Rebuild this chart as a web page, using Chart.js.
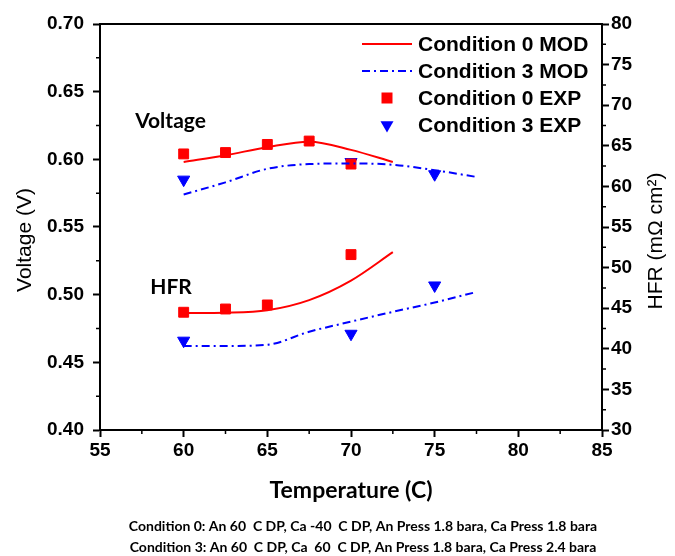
<!DOCTYPE html>
<html>
<head>
<meta charset="utf-8">
<script src="https://cdn.jsdelivr.net/npm/chart.js@4.4.0/dist/chart.umd.min.js"></script>
<style>
  html, body { margin: 0; padding: 0; background: #fff; }
  #wrap { width: 675px; height: 556px; }
</style>
</head>
<body>
<div id="wrap"><canvas id="chart" width="675" height="556"></canvas></div>
<script>
// model curves (temperature in C)
const tempMod0 = [60, 62.5, 65, 67.5, 70, 72.5];
const tempMod3 = [60, 62.5, 65, 67.5, 70, 72.5, 75, 77.5];
const voltMod0 = [0.598, 0.603, 0.609, 0.613, 0.607, 0.598];
const voltMod3 = [0.574, 0.583, 0.593, 0.5965, 0.597, 0.596, 0.592, 0.587];
const hfrMod0 = [44.4, 44.45, 44.75, 46.0, 48.4, 51.9];
const hfrMod3 = [40.35, 40.35, 40.5, 42.1, 43.35, 44.55, 45.7, 47.0];

// experimental points
const tempExp0V = [60, 62.5, 65, 67.5, 70];
const voltExp0 = [0.604, 0.605, 0.611, 0.6135, 0.5965];
const tempExp3V = [60, 70, 75];
const voltExp3 = [0.585, 0.598, 0.589];
const tempExp0H = [60, 62.5, 65, 70];
const hfrExp0 = [44.5, 44.9, 45.4, 51.6];
const tempExp3H = [60, 70, 75];
const hfrExp3 = [41.0, 41.85, 47.8];

const legendLabels = ['Condition 0 MOD', 'Condition 3 MOD', 'Condition 0 EXP', 'Condition 3 EXP'];
const captionLines = [
  'Condition 0: An 60  C DP, Ca -40  C DP, An Press 1.8 bara, Ca Press 1.8 bara',
  'Condition 3: An 60  C DP, Ca  60  C DP, An Press 1.8 bara, Ca Press 2.4 bara'
];
const noteTexts = ['Voltage', 'HFR'];
const noteX = [57.1, 58.0];
const noteY = [0.628, 0.5056];

const RED = '#ff0000';
const BLUE = '#0000ff';
const DASHDOT = [8, 4, 2, 4];

const pts = (xs, ys) => xs.map((x, i) => ({x: x, y: ys[i]}));

function modLine(label, xs, ys, color, dash, axis) {
  return {
    type: 'line', label: label, data: pts(xs, ys), yAxisID: axis,
    borderColor: color, borderWidth: 2, borderDash: dash,
    pointRadius: 0, fill: false, tension: 0.4, cubicInterpolationMode: 'monotone'
  };
}
function expPts(label, xs, ys, color, shape, axis) {
  const tri = shape === 'triangle';
  return {
    type: 'scatter', label: label, data: pts(xs, ys), yAxisID: axis,
    backgroundColor: color, borderColor: color, borderWidth: 1,
    pointStyle: shape, pointRotation: tri ? 180 : 0,
    pointRadius: 7, pointHoverRadius: 7, showLine: false
  };
}

// midpoints between major ticks
const minorTicks = scale => {
  const t = scale.ticks;
  const out = [];
  for (let i = 0; i < t.length - 1; i++) out.push((t[i].value + t[i + 1].value) / 2);
  return out;
};

const extras = {
  id: 'extras',
  afterDraw(chart) {
    const {ctx, chartArea: a, scales} = chart;
    ctx.save();
    ctx.strokeStyle = '#000';
    ctx.lineWidth = 2;
    ctx.beginPath();
    ctx.moveTo(a.left - 1, a.top);
    ctx.lineTo(a.right + 1, a.top);
    ctx.stroke();

    // minor ticks
    ctx.lineWidth = 1.5;
    ctx.beginPath();
    minorTicks(scales.x).forEach(v => {
      const p = scales.x.getPixelForValue(v);
      ctx.moveTo(p, a.bottom); ctx.lineTo(p, a.bottom + 4);
    });
    minorTicks(scales.y).forEach(v => {
      const p = scales.y.getPixelForValue(v);
      ctx.moveTo(a.left, p); ctx.lineTo(a.left - 4, p);
    });
    minorTicks(scales.y1).forEach(v => {
      const p = scales.y1.getPixelForValue(v);
      ctx.moveTo(a.right, p); ctx.lineTo(a.right + 4, p);
    });
    ctx.stroke();

    // axis titles (both read bottom to top)
    ctx.fillStyle = '#000';
    ctx.font = '21px "Liberation Sans"';
    ctx.textAlign = 'center';
    ctx.textBaseline = 'middle';
    ctx.save();
    ctx.translate(25, 240);
    ctx.rotate(-Math.PI / 2);
    ctx.fillText('Voltage (V)', 0, 0);
    ctx.restore();
    ctx.save();
    ctx.translate(656, 241);
    ctx.rotate(-Math.PI / 2);
    ctx.fillText('HFR (m\u03A9 cm\u00B2)', 0, 0);
    ctx.restore();

    // caption under the axis
    ctx.font = 'bold 14px Lato';
    captionLines.forEach((s, i) => ctx.fillText(s, 363, 526 + i * 21));

    // curve labels
    ctx.font = 'bold 21px Lato';
    ctx.textAlign = 'left';
    noteTexts.forEach((s, i) => {
      ctx.fillText(s, scales.x.getPixelForValue(noteX[i]), scales.y.getPixelForValue(noteY[i]));
    });

    // legend
    const ds = chart.data.datasets;
    const order = [0, 1, 4, 5];
    const rowY = [44, 71, 98, 125];
    ctx.font = 'bold 21px "Liberation Sans"';
    order.forEach((di, r) => {
      const d = ds[di];
      const y = rowY[r];
      if (d.type === 'line') {
        ctx.save();
        ctx.strokeStyle = d.borderColor;
        ctx.lineWidth = 2;
        ctx.setLineDash(d.borderDash || []);
        ctx.beginPath();
        ctx.moveTo(362, y); ctx.lineTo(412, y);
        ctx.stroke();
        ctx.restore();
      } else {
        ctx.fillStyle = d.backgroundColor;
        ctx.beginPath();
        if (d.pointStyle === 'rect') {
          ctx.rect(387 - 5.5, y - 5.5, 11, 11);
        } else {
          const rr = 7.5;
          ctx.moveTo(387 - rr * 0.866, y - rr / 2);
          ctx.lineTo(387 + rr * 0.866, y - rr / 2);
          ctx.lineTo(387, y + rr);
          ctx.closePath();
        }
        ctx.fill();
      }
      ctx.fillStyle = '#000';
      ctx.fillText(legendLabels[r], 418, y + 1);
    });
    ctx.restore();
  }
};

const tickFont = {family: '"Liberation Sans"', size: 19, weight: 'bold'};
const axisCommon = {
  border: {color: '#000', width: 2},
  grid: {drawOnChartArea: false, tickLength: 7, tickColor: '#000', tickWidth: 2}
};

new Chart(document.getElementById('chart'), {
  data: {
    datasets: [
      modLine('Condition 0 MOD', tempMod0, voltMod0, RED, [], 'y'),
      modLine('Condition 3 MOD', tempMod3, voltMod3, BLUE, DASHDOT, 'y'),
      modLine('Condition 0 MOD HFR', tempMod0, hfrMod0, RED, [], 'y1'),
      modLine('Condition 3 MOD HFR', tempMod3, hfrMod3, BLUE, DASHDOT, 'y1'),
      expPts('Condition 0 EXP', tempExp0V, voltExp0, RED, 'rect', 'y'),
      expPts('Condition 3 EXP', tempExp3V, voltExp3, BLUE, 'triangle', 'y'),
      expPts('Condition 0 EXP HFR', tempExp0H, hfrExp0, RED, 'rect', 'y1'),
      expPts('Condition 3 EXP HFR', tempExp3H, hfrExp3, BLUE, 'triangle', 'y1')
    ]
  },
  options: {
    responsive: false,
    animation: false,
    layout: {padding: {top: 24, left: 0, right: 0, bottom: 0}},
    plugins: {
      legend: {display: false},
      tooltip: {enabled: false}
    },
    scales: {
      x: Object.assign({}, axisCommon, {
        type: 'linear', min: 55, max: 85,
        ticks: {stepSize: 5, color: '#000', font: tickFont, padding: 2},
        title: {display: true, text: 'Temperature (C)', color: '#000',
          font: {family: 'Lato', size: 23, weight: 'bold'}, padding: {top: 0, bottom: 52}},
        afterFit: s => { s.height = 126; }
      }),
      y: Object.assign({}, axisCommon, {
        type: 'linear', position: 'left', min: 0.4, max: 0.7,
        ticks: {stepSize: 0.05, color: '#000', font: tickFont, padding: 9,
          callback: v => v.toFixed(2)},
        afterFit: s => { s.width = 100; }
      }),
      y1: Object.assign({}, axisCommon, {
        type: 'linear', position: 'right', min: 30, max: 80,
        ticks: {stepSize: 5, color: '#000', font: tickFont, padding: 2},
        afterFit: s => { s.width = 73; }
      })
    }
  },
  plugins: [extras]
});
</script>
</body>
</html>
